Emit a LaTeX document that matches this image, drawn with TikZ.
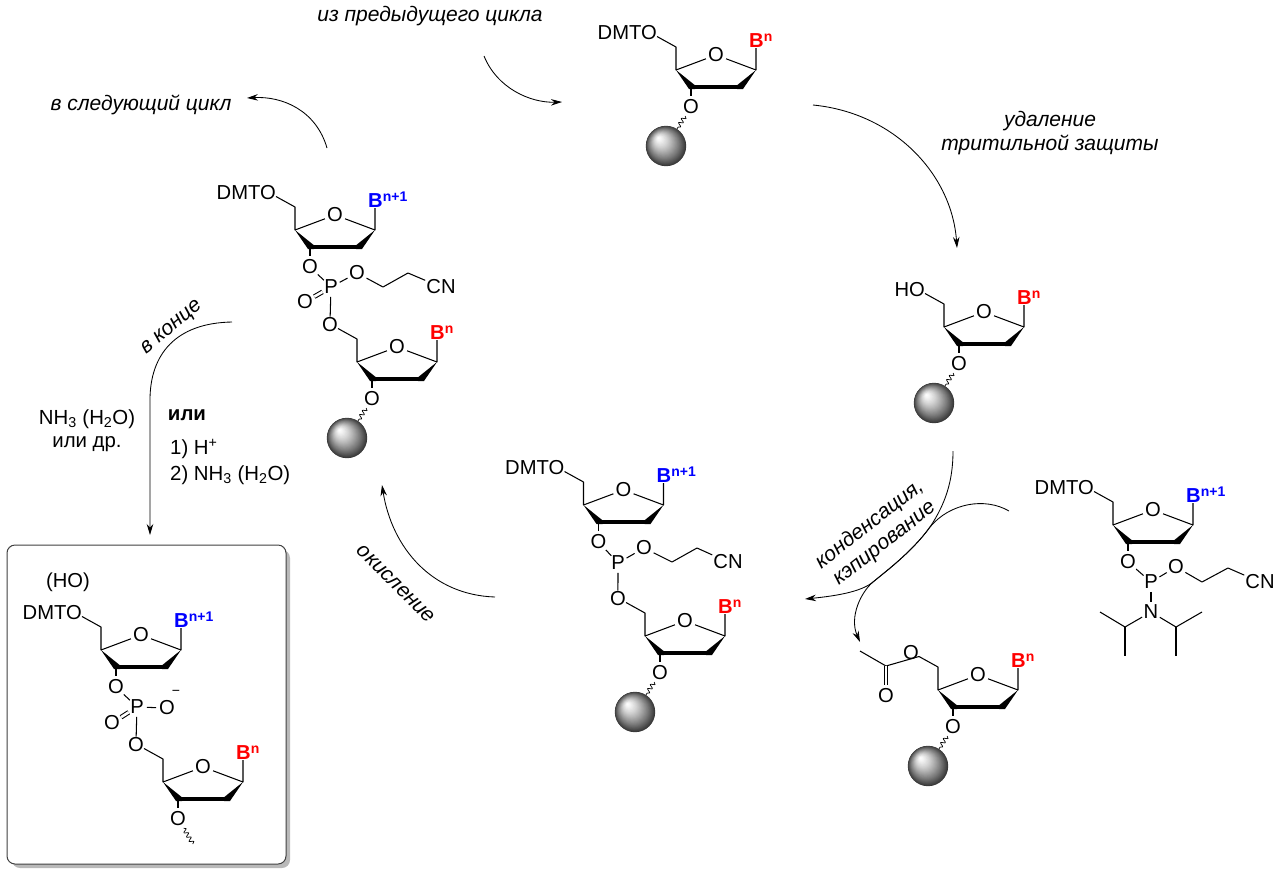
\documentclass[tikz,border=0pt]{standalone}
\usepackage{fontspec}
\setmainfont{Liberation Sans}
\usetikzlibrary{arrows.meta,calc,decorations.pathmorphing}
\tikzset{
  bond/.style={line width=1.05pt,line join=round},
  boldbond/.style={line width=3.6pt},
  atom/.style={circle,inner sep=0pt},
  label atom/.style={rectangle,inner sep=1pt},
  head/.style={inner sep=0pt,anchor=base east},
  basegroup/.style={inner sep=0pt,anchor=base west},
  curve/.style={line width=.85pt,-{Stealth[length=11pt,width=6.5pt]}},
  caption/.style={font=\fontsize{21}{24}\selectfont\itshape,inner sep=0pt,align=center},
  reagent/.style={font=\fontsize{20.4}{23}\selectfont,inner sep=0pt},
  wavy/.style={line width=.7pt,decorate,decoration={snake,segment length=5pt,amplitude=2pt}},
  bead/.style={circle,minimum size=40pt,inner sep=0pt},
}
% Base labels
\newcommand{\baseN}{\textcolor{red}{\textbf{B}\raisebox{6pt}{\fontsize{14}{14}\selectfont\textbf{n}}}}
\newcommand{\baseNp}{\textcolor{blue}{\textbf{B}\raisebox{6pt}{\fontsize{14}{14}\selectfont\textbf{n+1}}}}
% Deoxyribose ring: name, x and y of C4', 5'-group text, base label
\newcommand{\sugar}[5]{%
  \begin{scope}[shift={(#2,#3)}]
    \coordinate (#1c4) at (0,0);
    \coordinate (#1c5) at (0,-23);
    \coordinate (#1c1) at (80,0);
    \coordinate (#1c2) at (65,17.2);
    \coordinate (#1c3) at (15,17.2);
    \coordinate (#1o5end) at (-19,-33.5);
    \coordinate (#1bend) at (80,-22);
    \node[atom] (#1ro) at (40,-15) {O};
    \node[atom] (#1o3) at (15,37) {O};
    \node[head] (#1o5) at (-19,-31) {#4};
    \node[basegroup] (#1base) at (73,-23) {#5};
    \draw[bond] (#1o5end) -- (#1c5) -- (#1c4) -- (#1ro) -- (#1c1) -- (#1bend);
    \draw[bond] (#1c3) -- (#1o3);
    \draw[boldbond] (#1c3) -- (#1c2);
    \fill (#1c4) -- ++(19,15.3) -- ++(0,3.7) -- ++(-6,0) -- cycle;
    \fill (#1c1) -- ++(-19,15.3) -- ++(0,3.7) -- ++(6,0) -- cycle;
  \end{scope}}
% Solid support bead on the 3'-oxygen: nested discs drift towards the highlight
\newcommand{\support}[1]{%
  \node[bead] (#1bead) at ($(#1o3)+(-25,39)$) {};
  \draw[wavy] (#1o3) -- (#1bead);
  \foreach \k in {0,...,39}{%
    \pgfmathsetmacro{\tt}{\k/39}%
    \pgfmathsetmacro{\pct}{78*(1-\tt)^1.35}%
    \pgfmathsetmacro{\rad}{20*(1-\tt)+0.2}%
    \fill[black!\pct] ($(#1bead)+(-7.5*\tt,-8*\tt)$) circle[radius=\rad];
  }}
% Cyanoethyl arm: oxygen name, then P name, positions of O, CH2, CH2, CN
\newcommand{\cyanoethyl}[6]{%
  \node[atom] (#1ox) at #3 {O};
  \coordinate (#1ca) at #4;
  \coordinate (#1cb) at #5;
  \node[label atom] (#1cn) at #6 {CN};
  \draw[bond] (#2) -- (#1ox) -- (#1ca) -- (#1cb) -- (#1cn);}
\begin{document}
\begin{tikzpicture}[x=1pt,y=-1pt,font=\fontsize{20.2}{24}\selectfont]
\useasboundingbox (0,0) rectangle (1280,876);

% Product panel
\fill[gray!55,rounded corners=8pt] (12,550) rectangle (290,868);
\draw[line width=1pt,draw=black!75,fill=white,rounded corners=8pt] (7,545) rectangle (286,864);

% Top: support-bound nucleoside
\sugar{a}{676}{70}{DMTO}{\baseN}
\support{a}

% Right: deprotected 5'-OH
\sugar{b}{944}{327}{HO}{\baseN}
\support{b}

% Capped failure sequence
\sugar{c}{938}{690}{O}{\baseN}
\support{c}
\coordinate (cco) at (886,666);
\coordinate (cme) at (860,651);
\node[atom] (cdo) at (886,696) {O};
\draw[bond] (cme) -- (cco) -- (co5end);
\draw[bond,double,double distance=2.6pt] (cco) -- (cdo);

% Phosphoramidite
\sugar{d}{1113}{525}{DMTO}{\baseNp}
\node[atom] (dp) at (1151,582) {P};
\draw[bond] (do3) -- (dp);
\cyanoethyl{d}{dp}{(1176,567)}{(1202,582)}{(1228,568)}{(1260,582)}
\node[atom] (dn) at (1151,612) {N};
\coordinate (dl) at (1125,627);
\coordinate (dla) at (1100,612);
\coordinate (dlb) at (1125,656);
\coordinate (dr) at (1176,627);
\coordinate (dra) at (1202,612);
\coordinate (drb) at (1176,656);
\draw[bond] (dp) -- (dn);
\draw[bond] (dla) -- (dl) -- (dn) -- (dr) -- (dra);
\draw[bond] (dl) -- (dlb);
\draw[bond] (dr) -- (drb);

% Centre: phosphite triester
\sugar{e}{583.5}{505}{DMTO}{\baseNp}
\sugar{f}{645}{636}{O}{\baseN}
\support{f}
\node[atom] (ep) at (618,563) {P};
\draw[bond] (eo3) -- (ep) -- (fo5);
\cyanoethyl{e}{ep}{(644,548)}{(672,562)}{(697,548)}{(728,562)}

% Left: phosphate triester
\sugar{g}{295}{230}{DMTO}{\baseNp}
\sugar{h}{357}{362}{O}{\baseN}
\support{h}
\node[atom] (gp) at (331,287) {P};
\node[atom] (gdo) at (305,302) {O};
\draw[bond] (go3) -- (gp) -- (ho5);
\draw[bond,double,double distance=2.6pt] (gp) -- (gdo);
\cyanoethyl{g}{gp}{(357,273)}{(383,287)}{(408,273)}{(441,287)}

% Panel: dinucleotide
\node[inner sep=0pt] (phoh) at (68,582) {(HO)};
\sugar{i}{101}{650}{DMTO}{\baseNp}
\sugar{j}{163}{782}{O}{\baseN}
\node[atom] (ip) at (137,707) {P};
\node[atom] (idoa) at (112,723) {O};
\node[atom] (ioneg) at (167,708) {O};
\node[inner sep=0pt] (iminus) at (176,693) {\fontsize{14}{14}\selectfont −};
\draw[bond] (io3) -- (ip) -- (jo5);
\draw[bond] (ip) -- (ioneg);
\draw[bond,double,double distance=2.6pt] (ip) -- (idoa);
\coordinate (jtail) at (193,844);
\draw[wavy] (jo3) -- (jtail);

% Reaction arrows
\coordinate (r1a) at (484,56);  \coordinate (r1b) at (562,102);
\draw[curve] (r1a) .. controls (497,88) and (530,103) .. (r1b);
\coordinate (r2a) at (813,105); \coordinate (r2b) at (957,248);
\draw[curve] (r2a) .. controls (895,113) and (952,175) .. (r2b);
\coordinate (r3a) at (327,148); \coordinate (r3b) at (247,98);
\draw[curve] (r3a) .. controls (316,110) and (282,96) .. (r3b);
\coordinate (r4a) at (232,322); \coordinate (r4b) at (150,535);
\draw[curve] (r4a) .. controls (175,323) and (150,355) .. (150,400) -- (r4b);
\coordinate (r5a) at (495,597); \coordinate (r5b) at (382,485);
\draw[curve] (r5a) .. controls (432,595) and (392,548) .. (r5b);
\coordinate (r6a) at (953,451); \coordinate (r6b) at (805,599);
\coordinate (r7a) at (1009,511); \coordinate (r7m) at (930,527);
\coordinate (r7n) at (873,582); \coordinate (r7b) at (860,642);
\draw[curve] (r6a) .. controls (953,480) and (946,503) .. (r7m)
  .. controls (912,552) and (885,572) .. (r7n)
  .. controls (861,592) and (835,596) .. (r6b);
\draw[curve] (r7a) .. controls (985,497) and (950,503) .. (r7m)
  .. controls (912,552) and (885,572) .. (r7n)
  .. controls (861,592) and (849,617) .. (r7b);

% Step captions
\node[caption] (t1) at (430,16) {из предыдущего цикла};
\node[caption] (t2) at (141,105) {в следующий цикл};
\node[caption] (t3) at (1050,133) {удаление\\тритильной защиты};
\node[caption,rotate=40] (t4) at (172,328) {в конце};
\node[caption,rotate=-45] (t5) at (396,584) {окисление};
\node[caption,rotate=38] (t6) at (877,534) {конденсация,\\кэпирование};
\node[reagent,align=center] (t7) at (87,431) {NH\textsubscript{3} (H\textsubscript{2}O)\\или др.};
\node[reagent,font=\fontsize{20.4}{23}\selectfont\bfseries] (t8) at (187,415) {или};
\node[reagent,anchor=west] (t9) at (170,449) {1) H\textsuperscript{+}};
\node[reagent,anchor=west] (t10) at (170,475) {2) NH\textsubscript{3} (H\textsubscript{2}O)};
\end{tikzpicture}
\end{document}
